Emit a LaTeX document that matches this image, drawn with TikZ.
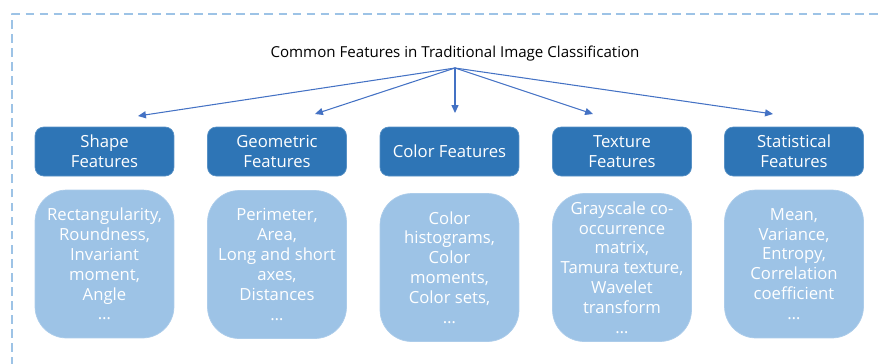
\documentclass[tikz,border=0pt]{standalone}
\usepackage{fontspec}
\setmainfont{Open Sans}
\usepackage{xcolor}
\usetikzlibrary{arrows.meta,calc}
\definecolor{headblue}{HTML}{2E75B6}
\definecolor{bodyblue}{HTML}{9DC3E6}
\definecolor{arrowblue}{HTML}{4472C4}
\definecolor{frameblue}{HTML}{9DC3E6}

\begin{document}
\begin{tikzpicture}[line cap=round,line join=round,x=0.02cm,y=-0.02cm,
    head/.style={fill=headblue,draw=headblue!80!white,rounded corners=5,minimum width=2.78cm,minimum height=0.98cm,
        text=white,align=center,font=\fontsize{9.5}{11.3}\selectfont,inner sep=0pt},
    body/.style={fill=bodyblue,draw=bodyblue!85!white,rounded corners=18,minimum width=2.78cm,minimum height=2.96cm,
        text=white,align=center,font=\fontsize{9.5}{11.3}\selectfont,inner sep=0pt},
    link/.style={draw=arrowblue,line width=0.6pt,-{Triangle[length=4.5pt,width=4pt]}}]
                \useasboundingbox (0,0) rectangle (878,363);
                \draw [frameblue,line width=0.8pt,line cap=butt,dash pattern=on 5pt off 3pt] (12,380)-- (12,14)-- (900,14);
                \node (title) at (455,54) {\fontsize{8.6}{10}\selectfont Common Features in Traditional Image Classification};
                \coordinate (root) at (455,68);
                \node [head] (shape) at (104.5,151.5) {Shape\\Features};
                \node [head] (geom) at (277,151.5) {Geometric\\Features};
                \node [head] (color) at (449.5,151.5) {Color Features};
                \node [head] (texture) at (622,151.5) {Texture\\Features};
                \node [head] (stat) at (794,151.5) {Statistical\\Features};
                \node [body] (shapeb) at (104.5,264) {Rectangularity,\\Roundness,\\Invariant\\moment,\\Angle\\\ldots};
                \node [body] (geomb) at (277,264.5) {Perimeter,\\Area,\\Long and short\\axes,\\Distances\\\ldots};
                \node [body] (colorb) at (449.5,267.5) {Color\\histograms,\\Color\\moments,\\Color sets,\\\ldots};
                \node [body] (textureb) at (622,267.5) {Grayscale co-\\occurrence\\matrix,\\Tamura texture,\\Wavelet\\transform\\\ldots};
                \node [body] (statb) at (794,264) {Mean,\\Variance,\\Entropy,\\Correlation\\coefficient\\\ldots};
                \coordinate (tshape) at (138,116);
                \coordinate (tgeom) at (315,114);
                \coordinate (tcolor) at (455,113);
                \coordinate (ttexture) at (593,114);
                \coordinate (tstat) at (773,114);
                \foreach \t in {tshape,tgeom,tcolor,ttexture,tstat}
                    \draw [link] (root)-- (\t);
            \end{tikzpicture}
\end{document}
